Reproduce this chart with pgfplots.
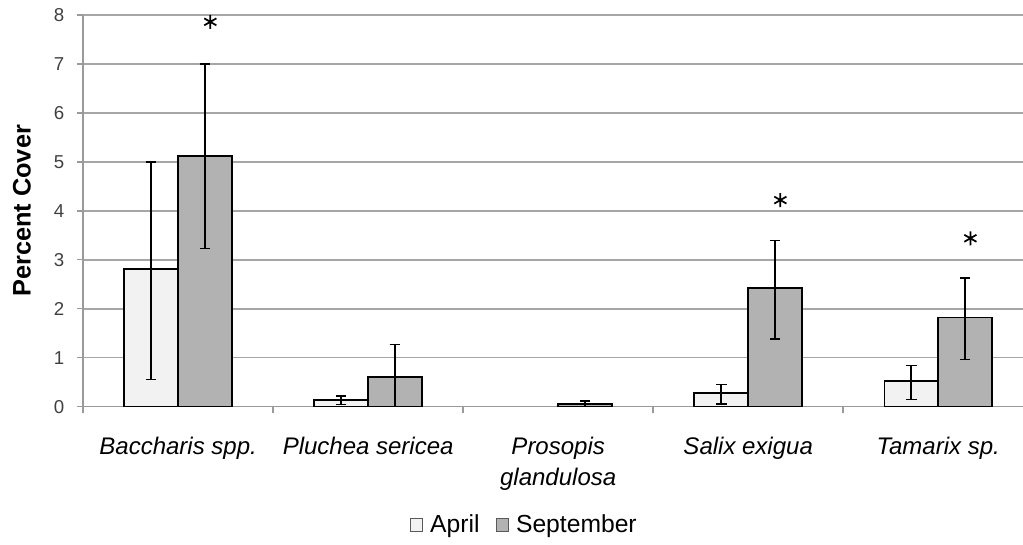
\documentclass[border=0pt]{standalone}
\usepackage{fontspec}
\setmainfont{Liberation Sans}
\usepackage{pgfplots}
\usepackage{pgfplotstable}
\pgfplotsset{compat=1.18}

\definecolor{aprfill}{HTML}{F2F2F2}
\definecolor{sepfill}{HTML}{B2B2B2}
\definecolor{gridgray}{HTML}{A6A6A6}
\definecolor{axisgray}{HTML}{9A9A9A}
\definecolor{ticktext}{HTML}{404040}

% percent cover, mean and asymmetric error bar lengths
\pgfplotstableread{
x y    minus plus
0 2.81 2.25  2.19
1 0.14 0.09  0.08
3 0.28 0.22  0.17
4 0.52 0.37  0.32
}\april
\pgfplotstableread{
x y     minus plus
0 5.12  1.89  1.88
1 0.61  0.61  0.66
2 0.055 0.055 0.065
3 2.43  1.05  0.97
4 1.82  0.86  0.81
}\september
% significance markers
\pgfplotstableread{
x y
0 7.86
3 4.22
4 3.44
}\stars

\begin{document}
\begin{tikzpicture}
  \useasboundingbox (0,0) rectangle (767.25pt,408.75pt);
  \begin{axis}[
    at={(62.25pt,103.7pt)}, anchor=south west,
    scale only axis, width=705pt, height=293.8pt,
    xmin=-0.5, xmax=4.447,
    ymin=0, ymax=8,
    axis lines*=left,
    axis line style={axisgray, line width=1pt},
    every tick/.style={axisgray, line width=1pt},
    tick align=outside,
    major tick length=4.5pt,
    ytick={0,...,8},
    ymajorgrids,
    grid style={gridgray, line width=1.1pt},
    xtick={-0.5,0.5,1.5,2.5,3.5},
    xticklabels={{Baccharis spp.},{Pluchea sericea},{Prosopis\\glandulosa},{Salix exigua},{Tamarix sp.}},
    xticklabel style={font=\fontsize{18}{23.25}\selectfont\itshape,
      align=center, text=black, xshift=71.36pt, yshift=-15pt},
    yticklabel style={font=\fontsize{14}{16}\selectfont,
      text=ticktext, xshift=-6pt},
    /pgf/number format/assume math mode=true,
    ylabel={Percent Cover},
    ylabel style={font=\fontsize{19}{22}\selectfont\bfseries,
      at={(axis description cs:-0.0649,0.5)}, anchor=center},
    legend style={at={(axis description cs:0.4697,-0.302)}, anchor=center,
      draw=none, fill=none, legend columns=2,
      font=\fontsize{18.5}{22}\selectfont,
      /tikz/every even column/.append style={column sep=10pt}},
    legend image code/.code={
      \path[draw=none, fill=none] (0pt,0pt) -- (13pt,0pt);
      \draw[#1, draw=gray!70!black, line width=0.8pt] (0pt,-4.75pt) rectangle (9.5pt,4.75pt);},
    error bars/error bar style={black, line width=1.1pt},
    error bars/error mark options={rotate=90, mark size=4pt, line width=1.1pt, black},
  ]

  \addplot[ybar, bar width=0.283, bar shift=0pt,
    fill=aprfill, draw=black, line width=1.2pt,
    error bars/.cd, y dir=both, y explicit]
    table[x expr=\thisrow{x}-0.1415, y=y,
      y error minus=minus, y error plus=plus] {\april};
  \addlegendentry{April}

  \addplot[ybar, bar width=0.283, bar shift=0pt,
    fill=sepfill, draw=black, line width=1.2pt,
    error bars/.cd, y dir=both, y explicit]
    table[x expr=\thisrow{x}+0.1415, y=y,
      y error minus=minus, y error plus=plus] {\september};
  \addlegendentry{September}

  \addplot[only marks, mark=asterisk, mark size=5.25pt,
    mark options={line width=1.3pt, black}, forget plot]
    table[x expr=\thisrow{x}+0.17, y=y] {\stars};
  \end{axis}
\end{tikzpicture}
\end{document}
